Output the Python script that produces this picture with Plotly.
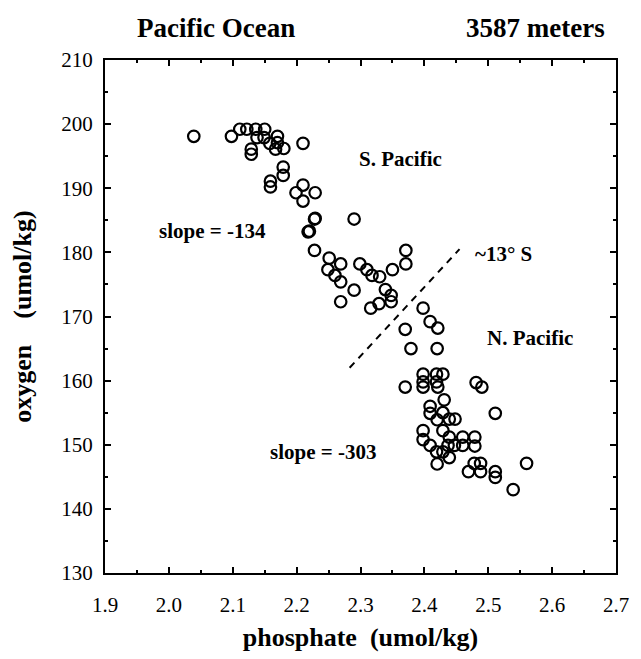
import plotly.graph_objects as go

phosphate = [
    2.039, 2.098, 2.111, 2.122, 2.136, 2.150, 2.138, 2.129, 2.129, 2.149,
    2.158, 2.170, 2.170, 2.167, 2.180, 2.210, 2.179, 2.179, 2.159, 2.159,
    2.199, 2.210, 2.210, 2.229, 2.229, 2.220, 2.228, 2.290, 2.218, 2.228,
    2.251, 2.269, 2.249, 2.260, 2.269, 2.269, 2.290, 2.299, 2.310, 2.318,
    2.330, 2.350, 2.371, 2.371, 2.339, 2.348, 2.348, 2.329, 2.316, 2.370,
    2.379, 2.398, 2.409, 2.421, 2.420, 2.370, 2.398, 2.398, 2.398, 2.419,
    2.429, 2.419, 2.421, 2.481, 2.490, 2.431, 2.409, 2.409, 2.429, 2.420,
    2.439, 2.448, 2.429, 2.511, 2.398, 2.398, 2.409, 2.439, 2.460, 2.479,
    2.479, 2.460, 2.447, 2.437, 2.419, 2.429, 2.439, 2.420, 2.478, 2.488,
    2.469, 2.488, 2.511, 2.511, 2.560, 2.539,
]
oxygen = [
    198.1, 198.1, 199.2, 199.2, 199.2, 199.2, 197.9, 196.1, 195.3, 197.9,
    197.0, 198.1, 197.1, 196.1, 196.2, 197.0, 193.3, 192.0, 191.1, 190.2,
    189.3, 190.5, 188.0, 189.3, 185.3, 183.3, 185.2, 185.2, 183.2, 180.3,
    179.1, 178.2, 177.3, 176.4, 175.4, 172.3, 174.1, 178.2, 177.3, 176.4,
    176.2, 177.3, 180.3, 178.2, 174.2, 173.3, 172.3, 172.0, 171.3, 168.0,
    165.0, 171.3, 169.2, 168.2, 165.0, 159.0, 161.0, 159.8, 159.0, 161.0,
    161.0, 159.8, 159.0, 159.7, 159.0, 157.0, 156.0, 154.9, 155.0, 153.9,
    154.0, 154.0, 152.2, 154.9, 152.2, 150.8, 149.9, 151.2, 151.2, 151.2,
    149.8, 149.9, 149.9, 149.9, 148.9, 148.9, 148.0, 147.0, 147.1, 147.1,
    145.8, 145.8, 145.8, 144.9, 147.1, 143.0,
]

divider_x = [2.283, 2.455]
divider_y = [162.0, 180.5]

x_ticks = [1.9, 2.0, 2.1, 2.2, 2.3, 2.4, 2.5, 2.6, 2.7]
x_tick_text = ["1.9", "2.0", "2.1", "2.2", "2.3", "2.4", "2.5", "2.6", "2.7"]
y_ticks = [130, 140, 150, 160, 170, 180, 190, 200, 210]
y_tick_text = ["130", "140", "150", "160", "170", "180", "190", "200", "210"]

SERIF = "Liberation Serif"

fig = go.Figure()
fig.add_trace(go.Scatter(
    x=divider_x, y=divider_y, mode="lines",
    line=dict(color="black", width=2, dash="7px,6px"),
    showlegend=False, hoverinfo="skip",
))
fig.add_trace(go.Scatter(
    x=phosphate, y=oxygen, mode="markers",
    marker=dict(symbol="circle-open", size=11.5, color="black", line=dict(width=2.2, color="black")),
    showlegend=False,
))

annots = [
    dict(x=2.362, y=194.6, text="S. Pacific"),
    dict(x=2.068, y=183.4, text="slope = -134"),
    dict(x=2.524, y=179.7, text="~13° S"),
    dict(x=2.566, y=166.6, text="N. Pacific"),
    dict(x=2.241, y=148.8, text="slope = -303"),
]
for a in annots:
    fig.add_annotation(x=a["x"], y=a["y"], text="<b>" + a["text"] + "</b>", showarrow=False,
                       font=dict(family=SERIF, size=21, color="black"),
                       xanchor="center", yanchor="middle")

fig.add_annotation(xref="paper", yref="paper", x=(218 - 105) / 519, y=1 + (59.5 - 27) / 521.5,
                   text="<b>Pacific Ocean</b>", showarrow=False,
                   font=dict(family=SERIF, size=27, color="black"), xanchor="center", yanchor="middle")
fig.add_annotation(xref="paper", yref="paper", x=(542 - 105) / 519, y=1 + (59.5 - 27) / 521.5,
                   text="<b>3587 meters</b>", showarrow=False,
                   font=dict(family=SERIF, size=27, color="black"), xanchor="center", yanchor="middle")

axis_common = dict(
    showline=True, linecolor="black", linewidth=2, mirror="allticks",
    ticks="inside", ticklen=6, tickwidth=1.5, tickcolor="black",
    showgrid=False, zeroline=False,
    tickfont=dict(family=SERIF, size=21, color="black"),
)

fig.update_xaxes(
    range=[1.9, 2.7], tickmode="array", tickvals=x_ticks, ticktext=x_tick_text,
    minor=dict(ticks="inside", dtick=0.05, tick0=1.9, ticklen=3, tickwidth=1.5, tickcolor="black", showgrid=False),
    ticklabelstandoff=12,
    title=dict(text="<b>phosphate  (umol/kg)</b>", font=dict(family=SERIF, size=26, color="black"), standoff=12),
    **axis_common,
)
fig.update_yaxes(
    range=[130, 210], tickmode="array", tickvals=y_ticks, ticktext=y_tick_text,
    minor=dict(ticks="inside", dtick=5, tick0=130, ticklen=3, tickwidth=1.5, tickcolor="black", showgrid=False),
    ticklabelstandoff=6,
    title=dict(text="<b>oxygen    (umol/kg)</b>", font=dict(family=SERIF, size=26, color="black"), standoff=22),
    **axis_common,
)

fig.update_layout(
    width=641, height=659,
    margin=dict(l=105, r=17, t=59.5, b=78),
    font=dict(family=SERIF, size=21, color="black"),
    plot_bgcolor="white", paper_bgcolor="white",
)

fig.write_html("out.html")
